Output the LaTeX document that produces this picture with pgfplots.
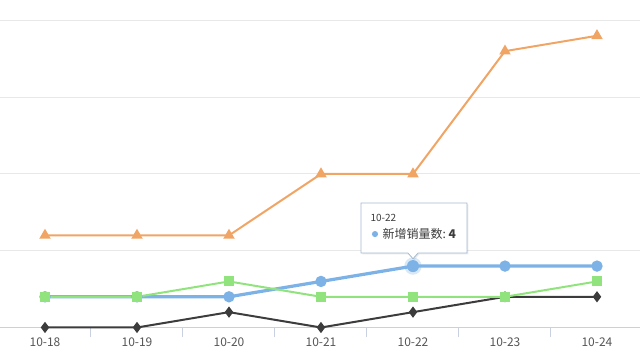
\documentclass[border=0pt]{standalone}
\usepackage{fontspec}
\setmainfont{Noto Sans CJK SC}
\usepackage{pgfplots}
\pgfplotsset{compat=1.18}
\definecolor{corange}{RGB}{240,165,100}
\definecolor{cblue}{RGB}{125,178,230}
\definecolor{cgreen}{RGB}{145,228,125}
\definecolor{cblack}{RGB}{60,60,60}
\definecolor{cgrid}{RGB}{232,232,232}
\definecolor{caxis}{RGB}{200,208,225}
\definecolor{ctext}{RGB}{85,85,85}
\definecolor{ctipborder}{RGB}{165,185,205}
\begin{document}
\begin{tikzpicture}
\useasboundingbox (0,0) rectangle (480pt,270pt);
\begin{axis}[
  at={(-0.75pt,24.375pt)}, anchor=south west,
  scale only axis, width=483pt, height=245.6pt,
  xmin=-0.5, xmax=6.5, ymin=0, ymax=21.33,
  clip=false,
  axis line style={draw=none},
  xtick={0,...,6},
  xticklabels={10-18,10-19,10-20,10-21,10-22,10-23,10-24},
  minor xtick={0.5,1.5,...,5.5},
  xtick pos=bottom, tick align=outside,
  major tick length=0pt, minor tick length=7.5pt,
  minor tick style={caxis, line width=0.75pt},
  xticklabel style={font=\fontsize{9}{10}\selectfont, text=ctext, yshift=-4pt},
  ytick={5,10,15,20}, yticklabel=\empty,
  ymajorgrids, grid style={cgrid, line width=0.75pt},
]
\draw[caxis, line width=0.75pt] (rel axis cs:0,0) -- (rel axis cs:1,0);
\addplot[corange, line width=1.5pt, mark=triangle*, mark size=3.5pt, mark options={fill=corange}] coordinates {(0,6) (1,6) (2,6) (3,10) (4,10) (5,18) (6,19)};
\addplot[cblue, line width=2.4pt, mark=*, mark size=3pt, mark options={fill=cblue}] coordinates {(0,2) (1,2) (2,2) (3,3) (4,4) (5,4) (6,4)};
\addplot[cblack, line width=1.5pt, mark=diamond*, mark size=3pt, mark options={fill=cblack}] coordinates {(0,0) (1,0) (2,1) (3,0) (4,1) (5,2) (6,2)};
\addplot[cgreen, line width=1.5pt, mark=square*, mark size=3pt, mark options={fill=cgreen}] coordinates {(0,2) (1,2) (2,3) (3,2) (4,2) (5,2) (6,3)};
\fill[cblue, opacity=0.3] (axis cs:4,4) circle (6.5pt);
\fill[cblue] (axis cs:4,4) circle (4.5pt);
\begin{scope}[shift={(axis cs:4,4)}]
  \fill[black, opacity=0.08]
    (-38pt,8.75pt) -- (-2.75pt,8.75pt) -- (1pt,4.5pt) -- (4.75pt,8.75pt) -- (41.5pt,8.75pt)
    -- (41.5pt,46.25pt) -- (-38pt,46.25pt) -- cycle;
  \draw[ctipborder, fill=white, line width=0.6pt]
    (-39pt,9.75pt) -- (-3.75pt,9.75pt) -- (0pt,5.5pt) -- (3.75pt,9.75pt) -- (40.5pt,9.75pt)
    -- (40.5pt,47.25pt) -- (-39pt,47.25pt) -- cycle;
  \node[anchor=west, inner sep=0pt, text=cblack, font=\fontsize{7.5}{8}\selectfont] at (-32pt,36pt) {10-22};
  \fill[cblue] (-28.5pt,24pt) circle (2.3pt);
  \node[anchor=west, inner sep=0pt, text=cblack, font=\fontsize{9}{10}\selectfont] at (-23pt,24pt) {新增销量数:~\textbf{4}};
\end{scope}
\end{axis}
\end{tikzpicture}
\end{document}
